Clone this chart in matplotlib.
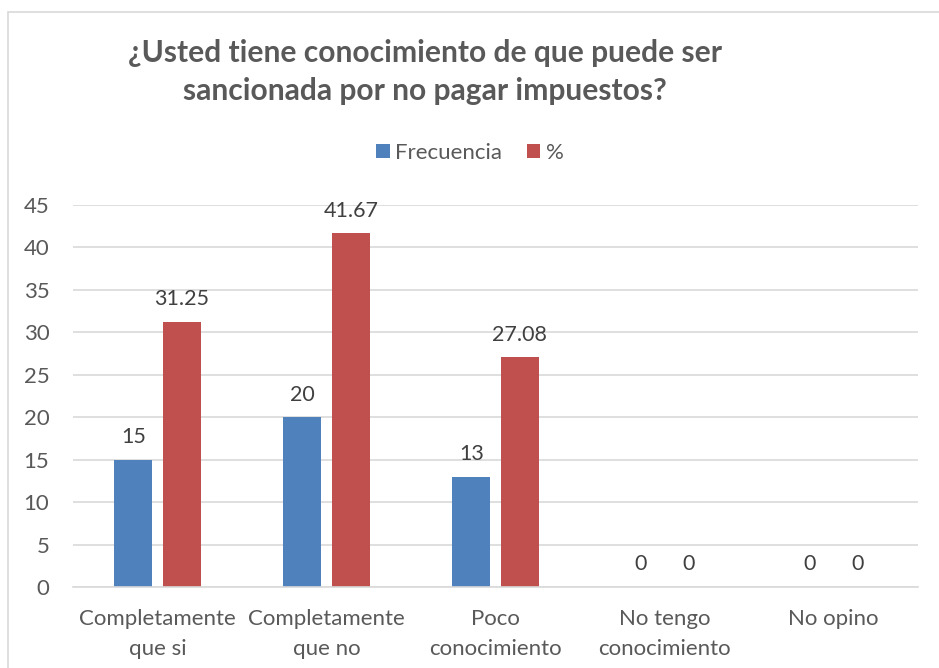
import numpy as np
import matplotlib.pyplot as plt
from matplotlib.patches import Rectangle

categories = ["Completamente\nque si", "Completamente\nque no", "Poco\nconocimiento",
              "No tengo\nconocimiento", "No opino"]
frecuencia = [15, 20, 13, 0, 0]
porcentaje = [31.25, 41.67, 27.08, 0, 0]
freq_labels = ["15", "20", "13", "0", "0"]
pct_labels = ["31.25", "41.67", "27.08", "0", "0"]

plt.rcParams['font.family'] = ['Lato', 'DejaVu Sans']

fig = plt.figure(figsize=(9.39, 6.68), dpi=100)
fig.patches.append(Rectangle((8 / 939, -0.05), 1.2, (668 - 12) / 668 + 0.05,
                             transform=fig.transFigure, fill=False,
                             edgecolor="#d9d9d9", linewidth=1.2))

ax = fig.add_axes([73 / 939, 81 / 668, 845 / 939, 382 / 668])
x = np.arange(len(categories))
w = 0.225
off = 0.1435
b1 = ax.bar(x - off, frecuencia, w, color="#4f81bd", label="Frecuencia")
b2 = ax.bar(x + off, porcentaje, w, color="#c0504d", label="%")

for bars, labs in ((b1, freq_labels), (b2, pct_labels)):
    for bar, lab in zip(bars, labs):
        ax.annotate(lab, (bar.get_x() + bar.get_width() / 2, bar.get_height()),
                    xytext=(0, 9), textcoords="offset points", ha="center", va="bottom",
                    fontsize=15.5, color="#404040")

ax.set_xlim(-0.5, 4.5)
ax.set_ylim(0, 45)
ax.set_yticks(range(0, 46, 5))
ax.yaxis.grid(True, color="#d9d9d9", linewidth=1.2)
ax.set_axisbelow(True)
for s in ("top", "right", "left"):
    ax.spines[s].set_visible(False)
ax.spines["bottom"].set_color("#d9d9d9")
ax.spines["bottom"].set_linewidth(1.2)
ax.set_xticks(x)
ax.set_xticklabels(categories, fontsize=16, color="#595959", linespacing=1.6)
ax.tick_params(axis="y", labelsize=16, labelcolor="#595959", length=0, pad=17)
ax.tick_params(axis="x", length=0, pad=16)

fig.text(425 / 939, 1 - 72 / 668,
         "¿Usted tiene conocimiento de que puede ser\nsancionada por no pagar impuestos?",
         ha="center", va="center", fontsize=21.6, fontweight="bold", color="#595959",
         linespacing=1.45)

fig.legend(handles=[b1, b2], loc="center", bbox_to_anchor=(470 / 939, 1 - 153 / 668),
           ncol=2, frameon=False, fontsize=16, labelcolor="#595959",
           handlelength=0.6, handleheight=0.6, handletextpad=0.25, columnspacing=1.1)

fig.savefig("out.png", dpi=100)
